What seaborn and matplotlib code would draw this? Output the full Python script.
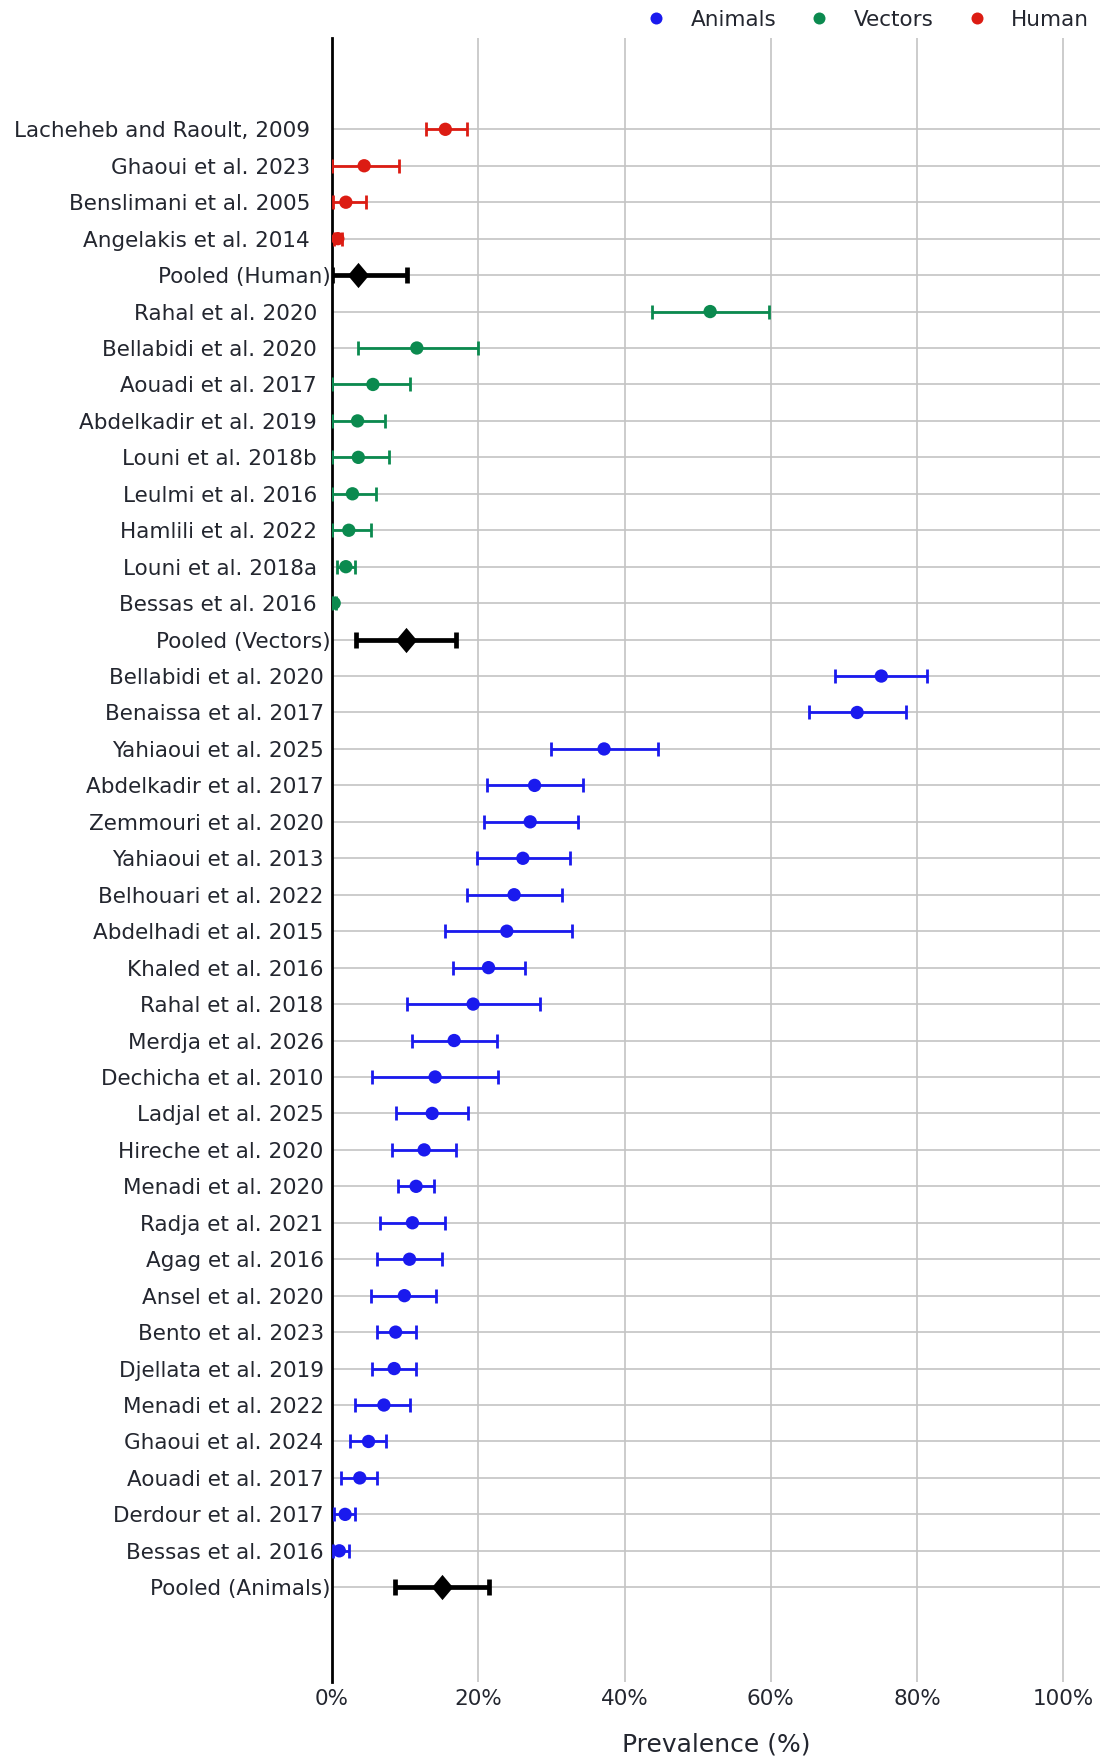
import pandas as pd
import matplotlib
matplotlib.use("Agg")
from matplotlib import pyplot as plt
from matplotlib.ticker import PercentFormatter
import seaborn as sns

# study estimates (prevalence %, lower CI, upper CI), top to bottom
human_labels = ["Lacheheb and Raoult, 2009", "Ghaoui et al. 2023",
                "Benslimani et al. 2005", "Angelakis et al. 2014"]
human_est = [15.5, 4.4, 1.9, 0.8]
human_lo = [12.9, 0.0, 0.1, 0.3]
human_hi = [18.4, 9.1, 4.6, 1.4]
pooled_human = [3.6, 0.0, 10.3]

vector_labels = ["Rahal et al. 2020", "Bellabidi et al. 2020", "Aouadi et al. 2017",
                 "Abdelkadir et al. 2019", "Louni et al. 2018b", "Leulmi et al. 2016",
                 "Hamlili et al. 2022", "Louni et al. 2018a", "Bessas et al. 2016"]
vector_est = [51.7, 11.6, 5.6, 3.5, 3.6, 2.8, 2.3, 1.9, 0.3]
vector_lo = [43.7, 3.5, 0.0, 0.0, 0.0, 0.0, 0.0, 0.7, 0.0]
vector_hi = [59.8, 19.9, 10.6, 7.3, 7.8, 6.0, 5.4, 3.1, 0.6]
pooled_vectors = [10.1, 3.3, 16.9]

animal_labels = ["Bellabidi et al. 2020", "Benaissa et al. 2017", "Yahiaoui et al. 2025",
                 "Abdelkadir et al. 2017", "Zemmouri et al. 2020", "Yahiaoui et al. 2013",
                 "Belhouari et al. 2022", "Abdelhadi et al. 2015", "Khaled et al. 2016",
                 "Rahal et al. 2018", "Merdja et al. 2026", "Dechicha et al. 2010",
                 "Ladjal et al. 2025", "Hireche et al. 2020", "Menadi et al. 2020",
                 "Radja et al. 2021", "Agag et al. 2016", "Ansel et al. 2020",
                 "Bento et al. 2023", "Djellata et al. 2019", "Menadi et al. 2022",
                 "Ghaoui et al. 2024", "Aouadi et al. 2017", "Derdour et al. 2017",
                 "Bessas et al. 2016"]
animal_est = [75.1, 71.8, 37.2, 27.7, 27.1, 26.1, 24.9, 23.9, 21.4, 19.3, 16.7, 14.1, 13.7,
              12.6, 11.5, 11.0, 10.6, 9.9, 8.7, 8.5, 7.1, 5.0, 3.8, 1.8, 1.0]
animal_lo = [68.8, 65.2, 30.0, 21.2, 20.8, 19.8, 18.5, 15.5, 16.6, 10.2, 10.9, 5.5, 8.7,
             8.2, 9.0, 6.5, 6.2, 5.4, 6.1, 5.5, 3.2, 2.5, 1.2, 0.3, 0.2]
animal_hi = [81.4, 78.5, 44.6, 34.3, 33.7, 32.6, 31.4, 32.8, 26.4, 28.5, 22.5, 22.7, 18.6,
             16.9, 14.0, 15.5, 15.1, 14.2, 11.5, 11.5, 10.6, 7.4, 6.2, 3.2, 2.3]
pooled_animals = [15.0, 8.6, 21.4]

colors = {"Animals": "#1a1aee", "Vectors": "#0b8a4f", "Human": "#dc1c13"}
text_col = "#23262f"

# build one table, rows in display order (trailing spaces keep labels distinct)
rows = []
for lab, e, lo, hi in zip(human_labels, human_est, human_lo, human_hi):
    rows.append((lab + "   ", "Human", e, lo, hi))
rows.append(("Pooled (Human)", "Pooled", *pooled_human))
for lab, e, lo, hi in zip(vector_labels, vector_est, vector_lo, vector_hi):
    rows.append((lab + "  ", "Vectors", e, lo, hi))
rows.append(("Pooled (Vectors)", "Pooled", *pooled_vectors))
for lab, e, lo, hi in zip(animal_labels, animal_est, animal_lo, animal_hi):
    rows.append((lab + " ", "Animals", e, lo, hi))
rows.append(("Pooled (Animals)", "Pooled", *pooled_animals))

df = pd.DataFrame(rows, columns=["Study", "Group", "Est", "Lo", "Hi"])
df["Pos"] = range(len(df))
studies = df[df.Group != "Pooled"]
pooled = df[df.Group == "Pooled"]

sns.set_style("white")
plt.rcParams["font.family"] = ["DejaVu Sans"]
plt.rcParams["font.size"] = 15.5

fig = plt.figure(figsize=(11, 17.6), dpi=100)
ax = fig.add_axes([0.3018, 0.0443, 0.6982, 0.934])

# confidence intervals
for grp, sub in studies.groupby("Group"):
    ax.errorbar(sub.Est, sub.Pos, xerr=[sub.Est - sub.Lo, sub.Hi - sub.Est], fmt="none",
                ecolor=colors[grp], elinewidth=2, capsize=4.7, capthick=2, zorder=3)
ax.errorbar(pooled.Est, pooled.Pos, xerr=[pooled.Est - pooled.Lo, pooled.Hi - pooled.Est],
            fmt="none", ecolor="black", elinewidth=3.4, capsize=6, capthick=3.4, zorder=3)

sns.scatterplot(data=studies, x="Est", y="Pos", hue="Group",
                hue_order=["Animals", "Vectors", "Human"], palette=colors,
                s=92, linewidth=0, ax=ax, zorder=4)
sns.scatterplot(data=pooled, x="Est", y="Pos", color="black",
                marker=[(-0.42, 0), (0, 0.5), (0.42, 0), (0, -0.5)],
                s=330, linewidth=0, ax=ax, zorder=4, legend=False)

ax.set_xlim(0, 105)
ax.set_ylim(42.6, -2.5)
ax.set_yticks(df.Pos)
ax.set_yticklabels(df.Study)
ax.set_xticks([0, 20, 40, 60, 80, 100])
ax.xaxis.set_major_formatter(PercentFormatter(decimals=0))
ax.tick_params(axis="y", length=0, pad=1, labelsize=15.5, labelcolor=text_col)
ax.tick_params(axis="x", length=0, pad=5, labelsize=15.5, labelcolor=text_col)
ax.grid(True, color="#c4c4c4", linewidth=1.2)
ax.set_axisbelow(True)
sns.despine(ax=ax, top=True, right=True, bottom=True, left=False)
ax.spines["left"].set_color("black")
ax.spines["left"].set_linewidth(2)
ax.set_xlabel("Prevalence (%)", size=18, color=text_col, labelpad=17)
ax.set_ylabel("")

leg = ax.get_legend()
handles = leg.legend_handles
leg.remove()
fig.legend(handles, ["Animals", "Vectors", "Human"], loc="center right",
           bbox_to_anchor=(1089 / 1100, 1 - 20 / 1760), ncol=3, frameon=False,
           borderpad=0, borderaxespad=0, handlelength=1.0, handletextpad=1.1,
           columnspacing=1.5, fontsize=15.5, labelcolor=text_col, markerscale=0.9)

plt.savefig("out.png", dpi=100)
